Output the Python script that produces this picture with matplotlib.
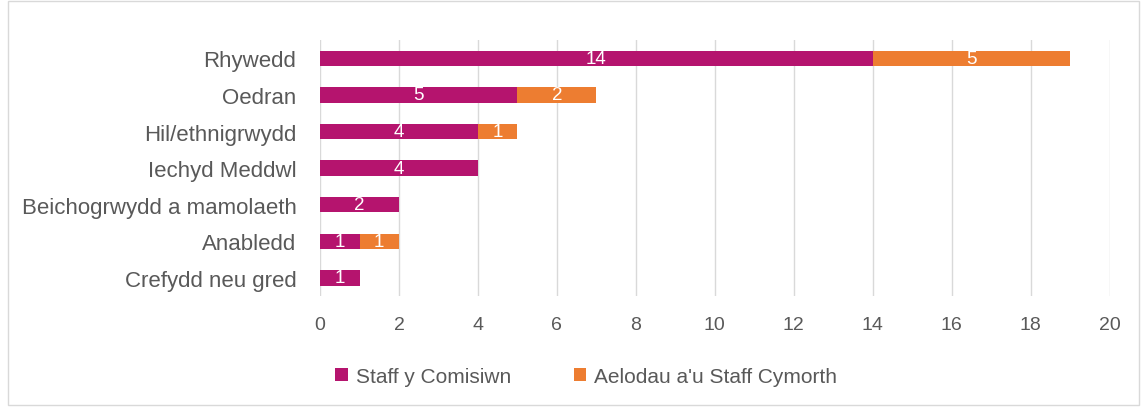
import matplotlib.pyplot as plt
from matplotlib.patches import Rectangle

# Data
categories = ["Rhywedd", "Oedran", "Hil/ethnigrwydd", "Iechyd Meddwl",
              "Beichogrwydd a mamolaeth", "Anabledd", "Crefydd neu gred"]
staff_comisiwn = [14, 5, 4, 4, 2, 1, 1]
aelodau_staff = [5, 2, 1, 0, 0, 1, 0]
series_names = ["Staff y Comisiwn", "Aelodau a'u Staff Cymorth"]

plt.rcParams['font.family'] = ['Liberation Sans', 'DejaVu Sans']

fig = plt.figure(figsize=(11.45, 4.1), dpi=100)
ax = fig.add_axes([0.2795, 0.275, 0.6895, 0.625])

# frame around whole chart
fig.patches.append(Rectangle((0.007, 0.01), 0.988, 0.985, transform=fig.transFigure,
                             fill=False, edgecolor='#d9d9d9', linewidth=1))

y = list(range(len(categories)))
b1 = ax.barh(y, staff_comisiwn, height=0.42, color='#B5146E', label=series_names[0])
b2 = ax.barh(y, aelodau_staff, left=staff_comisiwn, height=0.42, color='#ED7D31',
             label=series_names[1])

for bars, vals in ((b1, staff_comisiwn), (b2, aelodau_staff)):
    for bar, v in zip(bars, vals):
        if v == 0:
            continue
        ax.text(bar.get_x() + bar.get_width() / 2, bar.get_y() + bar.get_height() / 2,
                str(v), ha='center', va='center', color='white', fontsize=13.5)

ax.set_yticks(y)
ax.set_yticklabels(categories)
ax.invert_yaxis()
ax.set_ylim(6.5, -0.5)
ax.set_xlim(0, 20)
ax.set_xticks(range(0, 21, 2))
ax.grid(axis='x', color='#d9d9d9', linewidth=1)
ax.set_axisbelow(True)
for s in ax.spines.values():
    s.set_visible(False)
ax.tick_params(length=0, labelcolor='#595959')
ax.tick_params(axis='y', labelsize=16, pad=17)
ax.tick_params(axis='x', labelsize=14, pad=14)

fig.legend(handles=[b1, b2], loc='center', bbox_to_anchor=(0.512, 0.08), ncol=2,
           frameon=False, fontsize=15, handlelength=0.6, handleheight=0.6,
           columnspacing=3.0, handletextpad=0.4, labelcolor='#595959')

fig.savefig('out.png', dpi=100)
